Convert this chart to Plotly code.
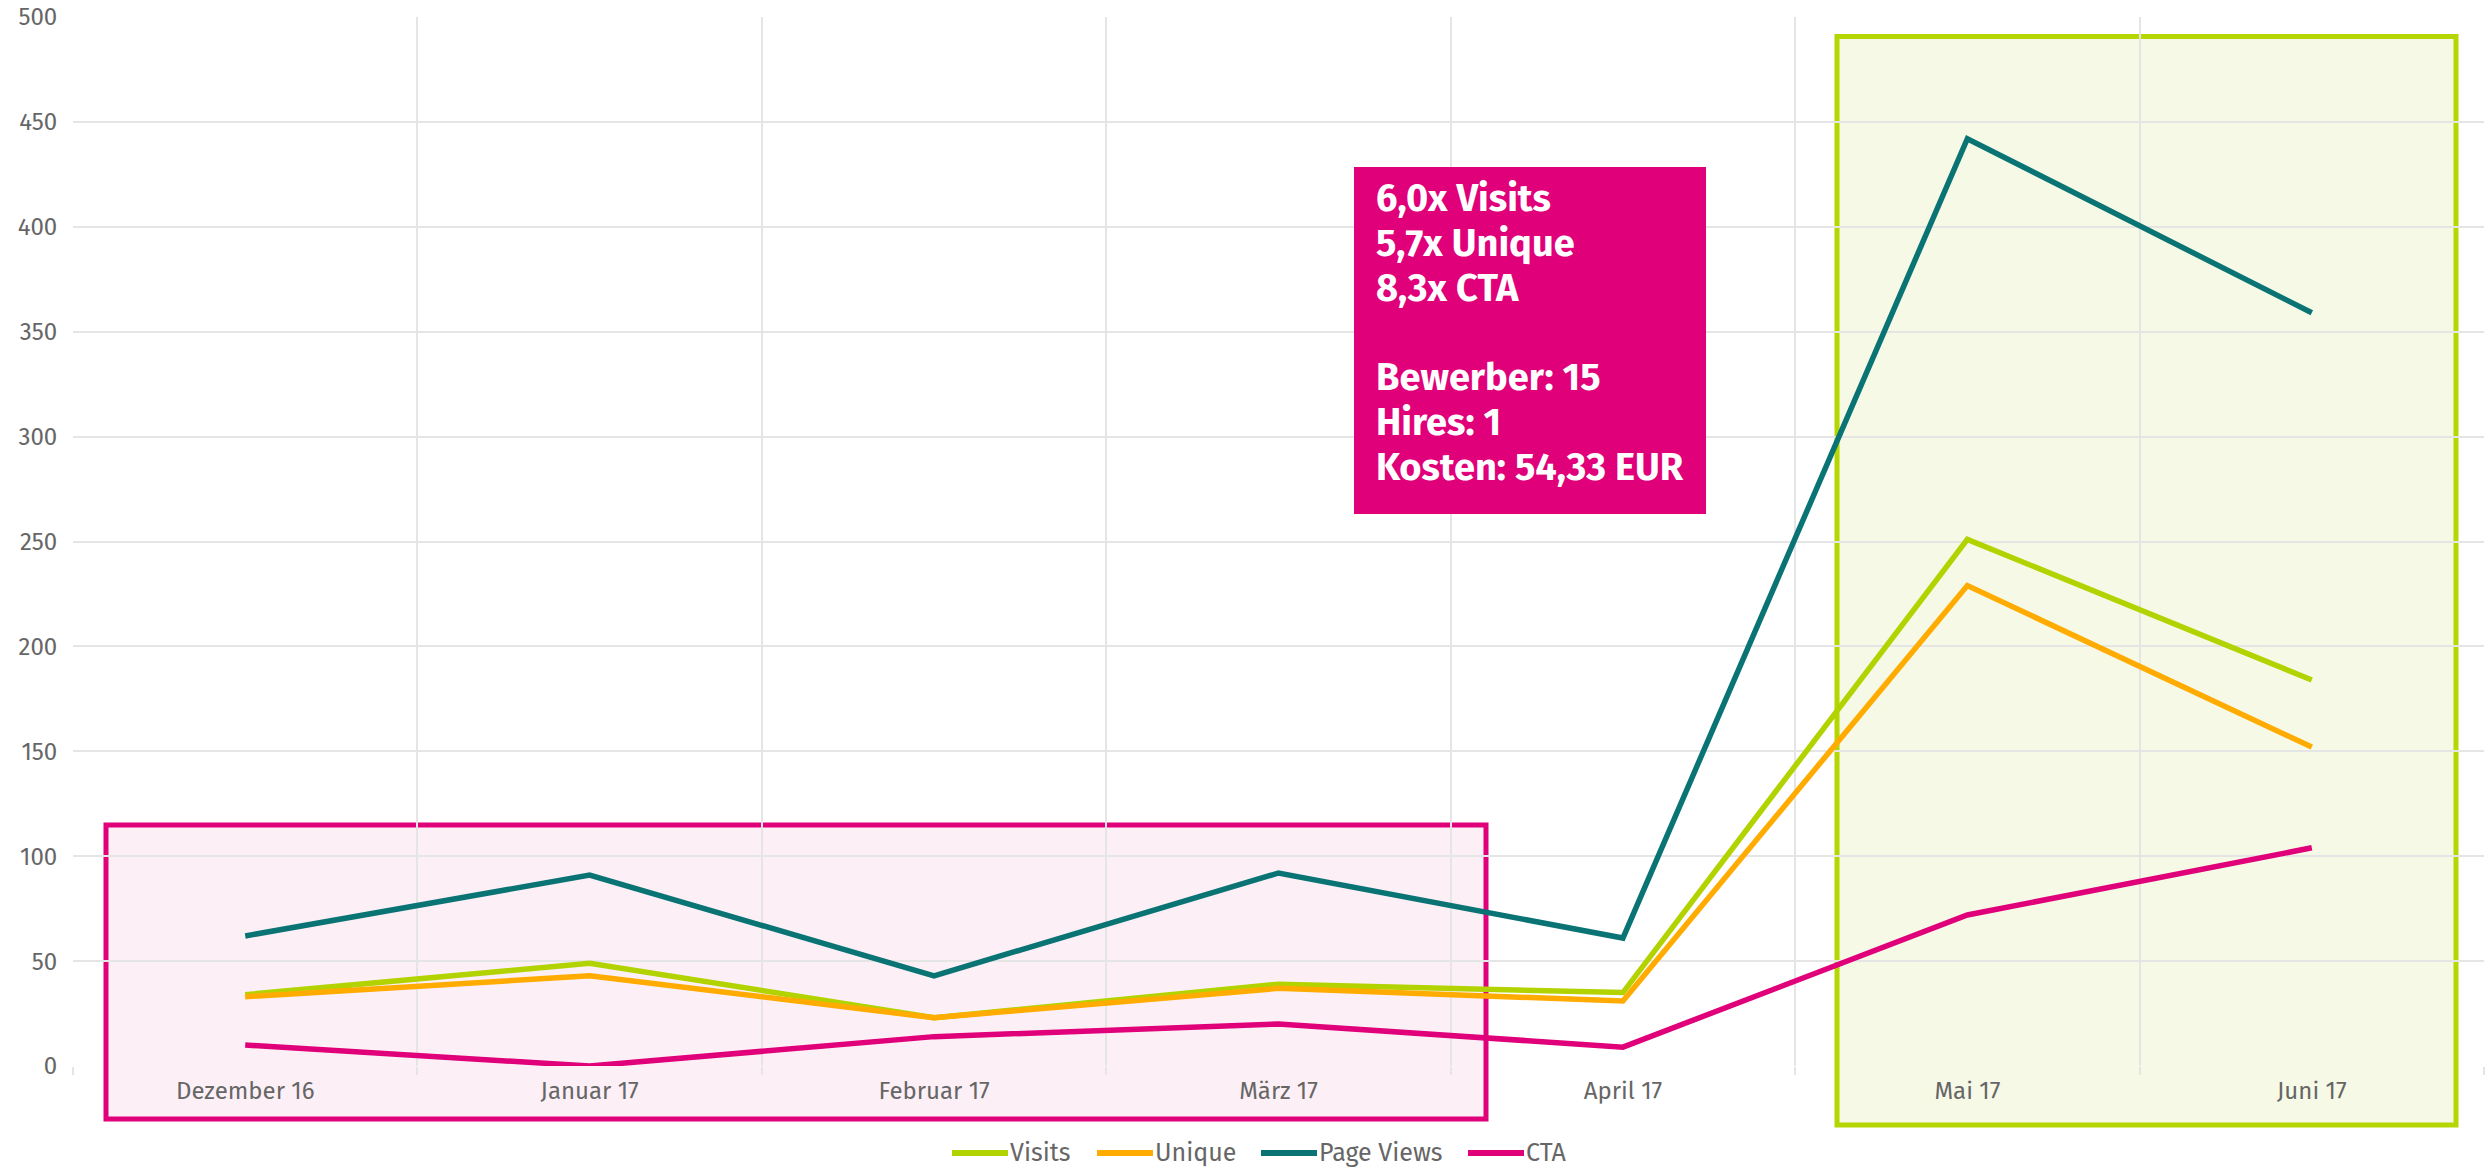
import plotly.graph_objects as go

# Monthly campaign metrics
months = ["Dezember 16", "Januar 17", "Februar 17", "März 17", "April 17", "Mai 17", "Juni 17"]
visits = [34, 49, 23, 39, 35, 251, 184]
unique = [33, 43, 23, 37, 31, 229, 152]
page_views = [62, 91, 43, 92, 61, 442, 359]
cta = [10, 0, 14, 20, 9, 72, 104]

y_ticks = list(range(0, 501, 50))

summary_lines = [
    "6,0x Visits",
    "5,7x Unique",
    "8,3x CTA",
    "",
    "Bewerber: 15",
    "Hires: 1",
    "Kosten: 54,33 EUR",
]

FONT = "Fira Sans, Open Sans, sans-serif"
GRID = "#e5e5e5"
MAGENTA = "#e0007a"
LIME = "#b5d600"

series = [
    ("Visits", visits, "#b3d300"),
    ("Unique", unique, "#ffab00"),
    ("Page Views", page_views, "#0a7374"),
    ("CTA", cta, MAGENTA),
]

# Page geometry (pixels) used to place decorations in paper coordinates
W, H = 2489, 1168
ML, MR, MT, MB = 73, 5, 17, 102
PW, PH = W - ML - MR, H - MT - MB
PLOT_BOTTOM = H - MB


def px_x(px):
    return (px - ML) / PW


def px_y(py):
    return (PLOT_BOTTOM - py) / PH


fig = go.Figure()
for name, vals, color in series:
    fig.add_trace(go.Scatter(
        x=months, y=vals, name=name, mode="lines",
        line=dict(color=color, width=5.5), showlegend=False,
    ))

# Highlight zones: before campaign (pink) and campaign months (green)
fig.add_shape(type="rect", xref="paper", yref="paper",
              x0=px_x(106), x1=px_x(1486), y0=px_y(1119), y1=px_y(825),
              fillcolor="#fcf0f6", line=dict(color=MAGENTA, width=5),
              layer="below")
fig.add_shape(type="rect", xref="paper", yref="paper",
              x0=px_x(1837), x1=px_x(2456), y0=px_y(1125), y1=px_y(36.5),
              fillcolor="#f5f9e6", line=dict(color=LIME, width=5),
              layer="below")

# Summary box, one annotation per text line for tight line spacing
fig.add_shape(type="rect", xref="paper", yref="paper",
              x0=px_x(1354), x1=px_x(1706), y0=px_y(514), y1=px_y(167),
              fillcolor=MAGENTA, line=dict(width=0), layer="above")
for i, line in enumerate(summary_lines):
    if not line:
        continue
    fig.add_annotation(
        xref="paper", yref="paper", x=0.5398, y=px_y(198.0 + i * 44.8),
        xanchor="left", yanchor="middle", align="left", showarrow=False,
        text=f"<b>{line}</b>",
        font=dict(family=FONT, size=38, color="white"),
    )

# Legend row below the axis: a line swatch followed by the series name
legend_x = [952, 1097, 1261, 1468]
legend_y = px_y(1153)
for (name, _, color), x0 in zip(series, legend_x):
    fig.add_shape(type="line", xref="paper", yref="paper",
                  x0=px_x(x0), x1=px_x(x0 + 56), y0=legend_y, y1=legend_y,
                  line=dict(color=color, width=6), layer="above")
    fig.add_annotation(
        xref="paper", yref="paper", x=px_x(x0 + 57), y=legend_y,
        xanchor="left", yanchor="middle", showarrow=False, text=name,
        font=dict(family=FONT, size=25, color="#666666"), borderpad=0,
    )

fig.update_layout(
    width=W, height=H,
    margin=dict(l=ML, r=MR, t=MT, b=MB, autoexpand=False),
    plot_bgcolor="rgba(0,0,0,0)",
    paper_bgcolor="white",
    font=dict(family=FONT, size=24, color="#666666"),
    showlegend=False,
    xaxis=dict(
        type="category", tickson="boundaries", showgrid=True, gridcolor=GRID, gridwidth=2,
        ticks="outside", ticklen=8, tickcolor=GRID, tickwidth=2, ticklabelstandoff=8,
        showline=False, zeroline=False, range=[-0.5, 6.5], automargin=False,
    ),
    yaxis=dict(
        range=[0, 500], tickvals=y_ticks, showgrid=True, gridcolor=GRID, gridwidth=2,
        zeroline=False, showline=False, ticks="outside", ticklen=10,
        tickcolor="rgba(0,0,0,0)", automargin=False,
    ),
)

fig.write_html("out.html")
